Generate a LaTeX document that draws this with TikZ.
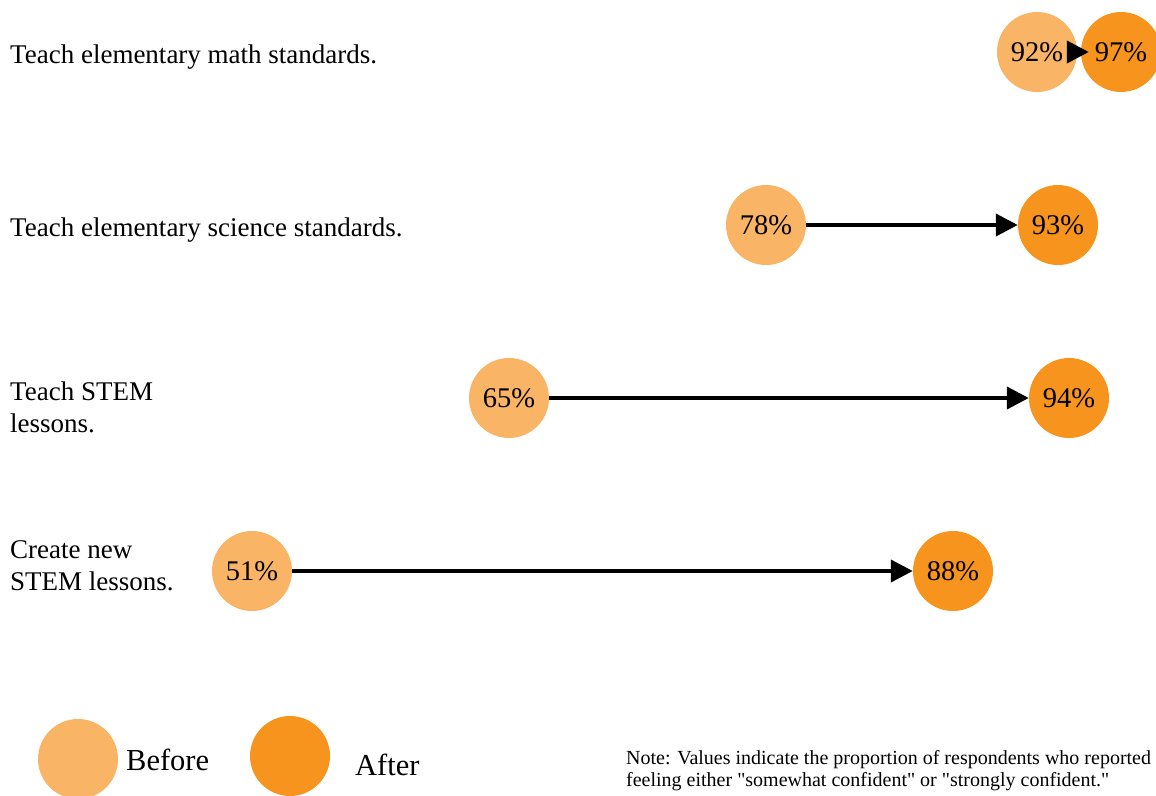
\documentclass[tikz,border=0pt]{standalone}
\usepackage{fontspec}
\setmainfont{Liberation Serif}[Ligatures=TeXOff]
\usetikzlibrary{arrows.meta}
\definecolor{beforec}{HTML}{F9B466}
\definecolor{afterc}{HTML}{F7941E}
\tikzset{
  beforedot/.style={circle, fill=beforec, minimum size=80pt, inner sep=0pt, font=\fontsize{28.5}{30}\selectfont},
  afterdot/.style={circle, fill=afterc, minimum size=80pt, inner sep=0pt, font=\fontsize{28.5}{30}\selectfont},
  rowlabel/.style={anchor=west, align=left, inner sep=0pt, font=\fontsize{27}{32}\selectfont},
  change/.style={line width=4pt, -{Triangle[length=22pt,width=22pt]}},
  legendtext/.style={anchor=west, inner sep=0pt, font=\fontsize{30.5}{32}\selectfont},
  notetext/.style={anchor=north west, align=left, inner sep=0pt, font=\fontsize{20}{22}\selectfont}
}
\begin{document}
\begin{tikzpicture}[x=1pt,y=-1pt]
\useasboundingbox (0,0) rectangle (1156,795);
\clip (0,0) rectangle (1156,795);
\fill[white] (0,0) rectangle (1156,795);
% labels
\node[rowlabel] (l1) at (10,57) {Teach elementary math standards.};
\node[rowlabel] (l2) at (10,230) {Teach elementary science standards.};
\node[rowlabel] (l3) at (10,407) {Teach STEM\\lessons.};
\node[rowlabel] (l4) at (10,566) {Create new\\STEM lessons.};
% row 1
\node[beforedot] (b1) at (1037,52) {92\%};
\node[afterdot] (a1) at (1121,52) {97\%};
\draw[change, shorten >=-8pt] (b1) -- (a1);
% row 2
\node[beforedot] (b2) at (766,225) {78\%};
\node[afterdot] (a2) at (1058,225) {93\%};
\draw[change] (b2) -- (a2);
% row 3
\node[beforedot] (b3) at (509,398) {65\%};
\node[afterdot] (a3) at (1069,398) {94\%};
\draw[change] (b3) -- (a3);
% row 4
\node[beforedot] (b4) at (252,571) {51\%};
\node[afterdot] (a4) at (953,571) {88\%};
\draw[change] (b4) -- (a4);
% legend
\node[beforedot] (lb) at (78,759) {};
\node[legendtext] (lbt) at (126,760) {Before};
\node[afterdot] (la) at (290,756) {};
\node[legendtext] (lat) at (355,765) {After};
% note
\node[notetext] (note) at (626,750) {Note: Values indicate the proportion of respondents who reported\\feeling either "somewhat confident" or "strongly confident."};
\end{tikzpicture}
\end{document}
